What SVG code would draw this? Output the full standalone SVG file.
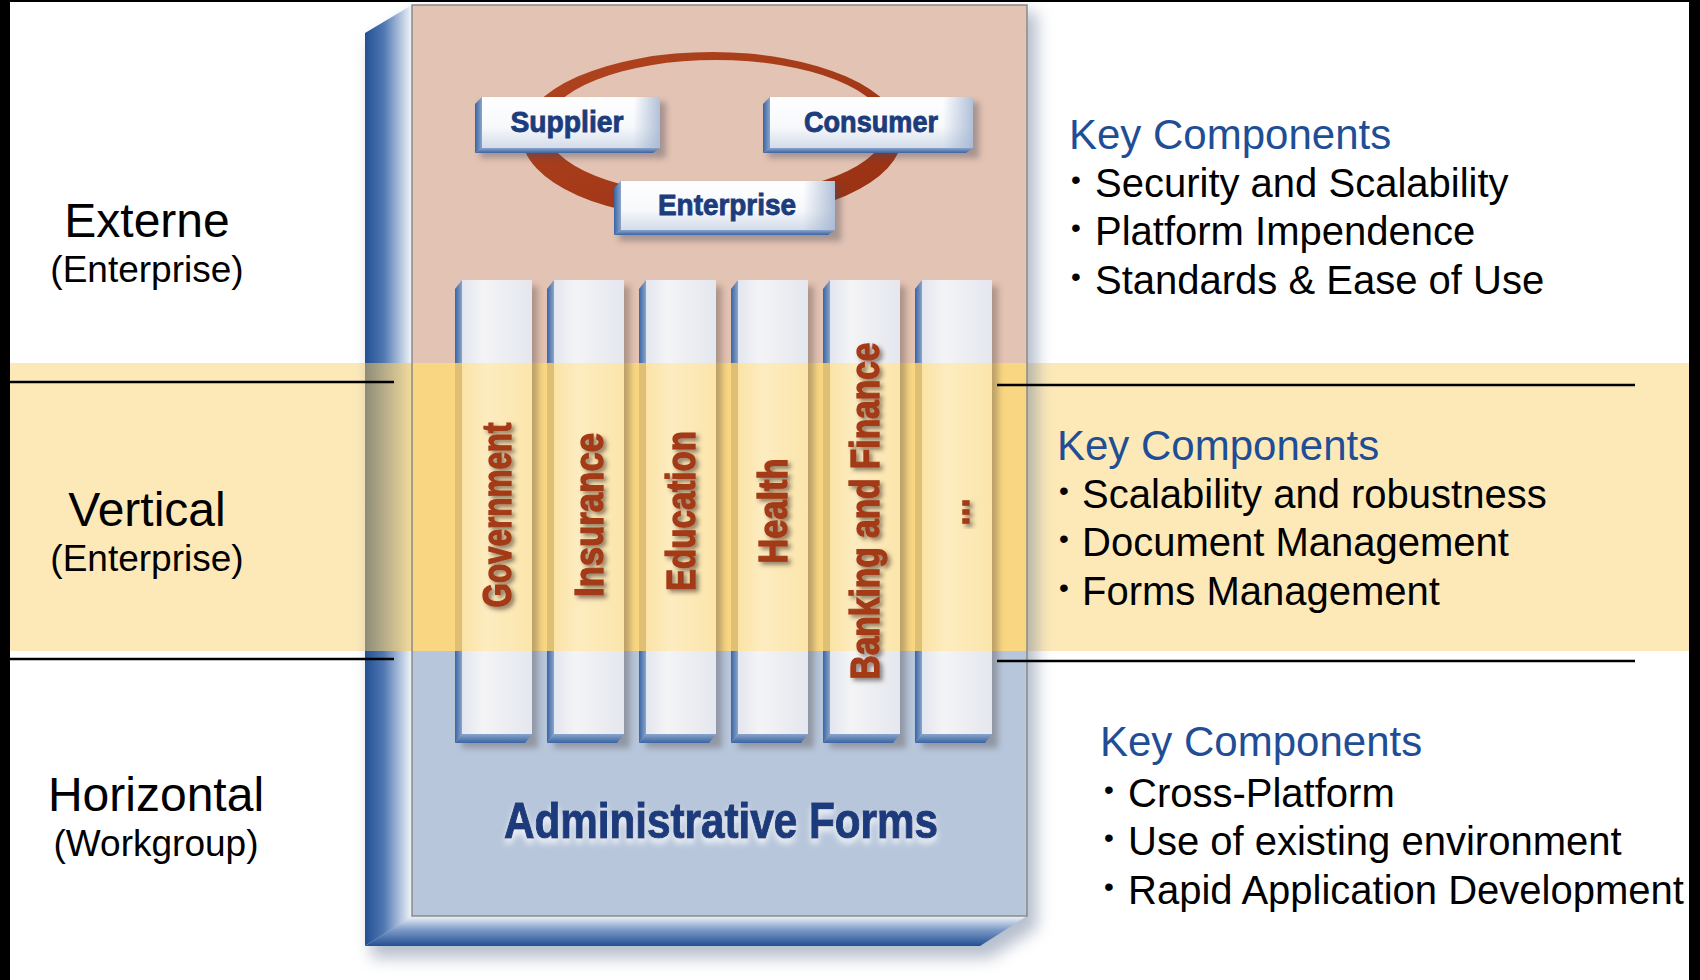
<svg xmlns="http://www.w3.org/2000/svg" width="1700" height="980" viewBox="0 0 1700 980">
<defs>
<style>
.lbl{font-family:"Liberation Sans",Arial,sans-serif;fill:#000;text-anchor:middle}
.big{font-size:48px}
.sub{font-size:37px}
.hdr{font-family:"Liberation Sans",Arial,sans-serif;font-size:42px;fill:#1f4e96}
.item{font-family:"Liberation Sans",Arial,sans-serif;font-size:40px;fill:#000}
.bul{font-family:"Liberation Sans",Arial,sans-serif;font-size:28px;fill:#000}
.btn{font-family:"Liberation Sans",Arial,sans-serif;font-size:30px;font-weight:bold;fill:#1d3c7c;stroke:#1d3c7c;stroke-width:0.9;text-anchor:middle}
.vt{font-family:"Liberation Sans",Arial,sans-serif;font-size:40px;font-weight:bold;fill:#a33a17;stroke:#a33a17;stroke-width:1.3;text-anchor:middle}
.rule{stroke:#000;stroke-width:2.5;fill:none}
.edge{fill:url(#edgeG)}
.edgeb{fill:url(#edgeBG)}
.bface{fill:url(#barG)}
.bband{fill:url(#barBandG)}
.eband{fill:#dfbf74}
.bshadow{fill:#4a3c3a;opacity:.35}
.bface-btn{fill:url(#btnG)}
</style>
<linearGradient id="sideG" x1="0" y1="0" x2="1" y2="0">
<stop offset="0" stop-color="#234f93"/>
<stop offset="0.4" stop-color="#5078b2"/>
<stop offset="1" stop-color="#f4f7fb"/>
</linearGradient>
<linearGradient id="bottomG" x1="0" y1="0" x2="0" y2="1">
<stop offset="0" stop-color="#f2f5fa"/>
<stop offset="0.45" stop-color="#7f9cc8"/>
<stop offset="1" stop-color="#234f93"/>
</linearGradient>
<linearGradient id="sideBandG" x1="0" y1="0" x2="1" y2="0">
<stop offset="0" stop-color="#8d8b78"/>
<stop offset="1" stop-color="#f3dc9e"/>
</linearGradient>
<linearGradient id="edgeG" x1="0" y1="0" x2="1" y2="0">
<stop offset="0" stop-color="#3a64a3"/>
<stop offset="1" stop-color="#8aa5cc"/>
</linearGradient>
<linearGradient id="edgeBG" x1="0" y1="0" x2="0" y2="1">
<stop offset="0" stop-color="#8aa5cc"/>
<stop offset="1" stop-color="#3a64a3"/>
</linearGradient>
<linearGradient id="barG" x1="0" y1="0" x2="1" y2="0">
<stop offset="0" stop-color="#e2e6ee"/>
<stop offset="0.3" stop-color="#f4f4f6"/>
<stop offset="1" stop-color="#e4e7ee"/>
</linearGradient>
<linearGradient id="barBandG" x1="0" y1="0" x2="1" y2="0">
<stop offset="0" stop-color="#fbe3a6"/>
<stop offset="0.35" stop-color="#fdecc0"/>
<stop offset="1" stop-color="#fbe5ab"/>
</linearGradient>
<linearGradient id="btnG" x1="0" y1="0" x2="0" y2="1">
<stop offset="0" stop-color="#ffffff"/>
<stop offset="0.6" stop-color="#f6f8fb"/>
<stop offset="1" stop-color="#d3dce9"/>
</linearGradient>
<linearGradient id="btnR" x1="0" y1="0" x2="1" y2="0">
<stop offset="0.85" stop-color="#9fb2cf" stop-opacity="0"/>
<stop offset="1" stop-color="#9fb2cf" stop-opacity="0.8"/>
</linearGradient>
<linearGradient id="ringG" x1="0" y1="0" x2="1" y2="1">
<stop offset="0" stop-color="#b2451f"/>
<stop offset="1" stop-color="#962f12"/>
</linearGradient>
<filter id="blur8" x="-10%" y="-10%" width="130%" height="130%"><feGaussianBlur stdDeviation="8"/></filter>
<filter id="blur3" x="-20%" y="-20%" width="140%" height="140%"><feGaussianBlur stdDeviation="3"/></filter>
<filter id="ts" x="-30%" y="-10%" width="160%" height="120%"><feDropShadow dx="3" dy="3" stdDeviation="2" flood-color="#3a2a20" flood-opacity="0.55"/></filter>
<filter id="glow" x="-5%" y="-20%" width="110%" height="160%"><feDropShadow dx="0" dy="5" stdDeviation="3" flood-color="#ffffff" flood-opacity="0.8"/></filter>
</defs>

<rect x="0" y="0" width="1700" height="980" fill="#ffffff"/>
<rect x="10" y="363" width="1680" height="288" fill="#fde9b8"/>

<g id="frame">
<path d="M418,12 L1037,12 L1037,928 L990,958 L371,958 L371,42 Z" fill="#6f7f9c" opacity="0.5" filter="url(#blur8)"/>
<polygon points="412,5 365,33 365,946 412,916" fill="url(#sideG)"/>
<rect x="365" y="363" width="47" height="288" fill="url(#sideBandG)"/>
<polygon points="365,946 980,946 1027,916 412,916" fill="url(#bottomG)"/>
<rect x="412" y="5" width="615" height="358" fill="#e3c3b3"/>
<rect x="412" y="363" width="615" height="288" fill="#f9d681"/>
<rect x="412" y="651" width="615" height="265" fill="#b7c6db"/>
<rect x="412" y="5" width="615" height="911" fill="none" stroke="#8a8a8a" stroke-width="1.5"/>
</g>

<g id="connectors">
<path d="M522,136 A190,84 0 1,0 902,136 A190,84 0 1,0 522,136 Z M546,128 A170,68 0 1,1 886,128 A170,68 0 1,1 546,128 Z" fill="url(#ringG)" fill-rule="evenodd"/>
</g>

<g id="supplier">
<rect x="480" y="102" width="186" height="56" fill="#4a4a5a" opacity="0.4" filter="url(#blur3)"/>
<polygon points="482,97 475,104 475,153 482,148" fill="url(#edgeG)"/>
<polygon points="475,153 653,153 660,148 482,148" fill="url(#edgeBG)"/>
<rect x="482" y="97" width="178" height="51" class="bface-btn"/>
<rect x="482" y="97" width="178" height="51" fill="url(#btnR)"/>
<text x="567" y="132" class="btn" textLength="113" lengthAdjust="spacingAndGlyphs">Supplier</text>
</g>

<g id="consumer">
<rect x="768" y="102" width="211" height="56" fill="#4a4a5a" opacity="0.4" filter="url(#blur3)"/>
<polygon points="770,97 763,104 763,153 770,148" fill="url(#edgeG)"/>
<polygon points="763,153 966,153 973,148 770,148" fill="url(#edgeBG)"/>
<rect x="770" y="97" width="203" height="51" class="bface-btn"/>
<rect x="770" y="97" width="203" height="51" fill="url(#btnR)"/>
<text x="871" y="132" class="btn" textLength="134" lengthAdjust="spacingAndGlyphs">Consumer</text>
</g>

<g id="enterprise">
<rect x="619" y="186" width="222" height="55" fill="#4a4a5a" opacity="0.4" filter="url(#blur3)"/>
<polygon points="621,181 614,188 614,235 621,230" fill="url(#edgeG)"/>
<polygon points="614,235 828,235 835,230 621,230" fill="url(#edgeBG)"/>
<rect x="621" y="181" width="214" height="49" class="bface-btn"/>
<rect x="621" y="181" width="214" height="49" fill="url(#btnR)"/>
<text x="727" y="215" class="btn" textLength="138" lengthAdjust="spacingAndGlyphs">Enterprise</text>
</g>

<g id="col-government">
<rect x="462" y="286" width="76" height="462" class="bshadow" filter="url(#blur3)"/>
<polygon points="462,280 455,289 455,743 462,734" class="edge"/>
<polygon points="455,743 525,743 532,734 462,734" class="edgeb"/>
<rect x="462" y="280" width="70" height="454" class="bface"/>
<rect x="455" y="363" width="7" height="288" class="eband"/>
<rect x="462" y="363" width="70" height="288" class="bband"/>
<g filter="url(#ts)"><text class="vt" transform="translate(511,515) rotate(-90)" textLength="185" lengthAdjust="spacingAndGlyphs">Government</text></g>
</g>

<g id="col-insurance">
<rect x="554" y="286" width="76" height="462" class="bshadow" filter="url(#blur3)"/>
<polygon points="554,280 547,289 547,743 554,734" class="edge"/>
<polygon points="547,743 617,743 624,734 554,734" class="edgeb"/>
<rect x="554" y="280" width="70" height="454" class="bface"/>
<rect x="547" y="363" width="7" height="288" class="eband"/>
<rect x="554" y="363" width="70" height="288" class="bband"/>
<g filter="url(#ts)"><text class="vt" transform="translate(603,515) rotate(-90)" textLength="164" lengthAdjust="spacingAndGlyphs">Insurance</text></g>
</g>

<g id="col-education">
<rect x="646" y="286" width="76" height="462" class="bshadow" filter="url(#blur3)"/>
<polygon points="646,280 639,289 639,743 646,734" class="edge"/>
<polygon points="639,743 709,743 716,734 646,734" class="edgeb"/>
<rect x="646" y="280" width="70" height="454" class="bface"/>
<rect x="639" y="363" width="7" height="288" class="eband"/>
<rect x="646" y="363" width="70" height="288" class="bband"/>
<g filter="url(#ts)"><text class="vt" transform="translate(695,511) rotate(-90)" textLength="160" lengthAdjust="spacingAndGlyphs">Education</text></g>
</g>

<g id="col-health">
<rect x="738" y="286" width="76" height="462" class="bshadow" filter="url(#blur3)"/>
<polygon points="738,280 731,289 731,743 738,734" class="edge"/>
<polygon points="731,743 801,743 808,734 738,734" class="edgeb"/>
<rect x="738" y="280" width="70" height="454" class="bface"/>
<rect x="731" y="363" width="7" height="288" class="eband"/>
<rect x="738" y="363" width="70" height="288" class="bband"/>
<g filter="url(#ts)"><text class="vt" transform="translate(787,511) rotate(-90)" textLength="105" lengthAdjust="spacingAndGlyphs">Health</text></g>
</g>

<g id="col-banking">
<rect x="830" y="286" width="76" height="462" class="bshadow" filter="url(#blur3)"/>
<polygon points="830,280 823,289 823,743 830,734" class="edge"/>
<polygon points="823,743 893,743 900,734 830,734" class="edgeb"/>
<rect x="830" y="280" width="70" height="454" class="bface"/>
<rect x="823" y="363" width="7" height="288" class="eband"/>
<rect x="830" y="363" width="70" height="288" class="bband"/>
<g filter="url(#ts)"><text class="vt" transform="translate(879,511) rotate(-90)" textLength="337" lengthAdjust="spacingAndGlyphs">Banking and Finance</text></g>
</g>

<g id="col-more">
<rect x="922" y="286" width="76" height="462" class="bshadow" filter="url(#blur3)"/>
<polygon points="922,280 915,289 915,743 922,734" class="edge"/>
<polygon points="915,743 985,743 992,734 922,734" class="edgeb"/>
<rect x="922" y="280" width="70" height="454" class="bface"/>
<rect x="915" y="363" width="7" height="288" class="eband"/>
<rect x="922" y="363" width="70" height="288" class="bband"/>
<g filter="url(#ts)"><text class="vt" transform="translate(969,512) rotate(-90)" textLength="27" lengthAdjust="spacingAndGlyphs">...</text></g>
</g>

<g id="admin-forms" filter="url(#glow)">
<text x="721" y="838" font-family="'Liberation Sans',Arial,sans-serif" font-size="50" font-weight="bold" fill="#1b3b7c" stroke="#1b3b7c" stroke-width="1.2" text-anchor="middle" textLength="434" lengthAdjust="spacingAndGlyphs">Administrative Forms</text>
</g>

<g id="label-externe">
<text x="147" y="237" class="lbl big">Externe</text>
<text x="147" y="282" class="lbl sub">(Enterprise)</text>
</g>
<g id="label-vertical">
<text x="147" y="526" class="lbl big">Vertical</text>
<text x="147" y="571" class="lbl sub">(Enterprise)</text>
</g>
<g id="label-horizontal">
<text x="156" y="811" class="lbl big">Horizontal</text>
<text x="156" y="856" class="lbl sub">(Workgroup)</text>
</g>

<g id="key-externe">
<text x="1069" y="149" class="hdr">Key Components</text>
<text x="1071" y="189" class="bul">•</text>
<text x="1095" y="197" class="item">Security and Scalability</text>
<text x="1071" y="237" class="bul">•</text>
<text x="1095" y="245" class="item">Platform Impendence</text>
<text x="1071" y="286" class="bul">•</text>
<text x="1095" y="294" class="item">Standards &amp; Ease of Use</text>
</g>
<g id="key-vertical">
<text x="1057" y="460" class="hdr">Key Components</text>
<text x="1059" y="500" class="bul">•</text>
<text x="1082" y="508" class="item">Scalability and robustness</text>
<text x="1059" y="548" class="bul">•</text>
<text x="1082" y="556" class="item">Document Management</text>
<text x="1059" y="597" class="bul">•</text>
<text x="1082" y="605" class="item">Forms Management</text>
</g>
<g id="key-horizontal">
<text x="1100" y="756" class="hdr">Key Components</text>
<text x="1104" y="799" class="bul">•</text>
<text x="1128" y="807" class="item">Cross-Platform</text>
<text x="1104" y="847" class="bul">•</text>
<text x="1128" y="855" class="item">Use of existing environment</text>
<text x="1104" y="896" class="bul">•</text>
<text x="1128" y="904" class="item">Rapid Application Development</text>
</g>

<g id="rules">
<line x1="10" y1="382" x2="394" y2="382" class="rule"/>
<line x1="10" y1="659" x2="394" y2="659" class="rule"/>
<line x1="997" y1="385" x2="1635" y2="385" class="rule"/>
<line x1="997" y1="661" x2="1635" y2="661" class="rule"/>
</g>

<g id="border">
<rect x="0" y="0" width="10" height="980" fill="#000"/>
<rect x="0" y="0" width="1700" height="2" fill="#000"/>
<rect x="1689" y="0" width="11" height="980" fill="#000"/>
</g>
</svg>
